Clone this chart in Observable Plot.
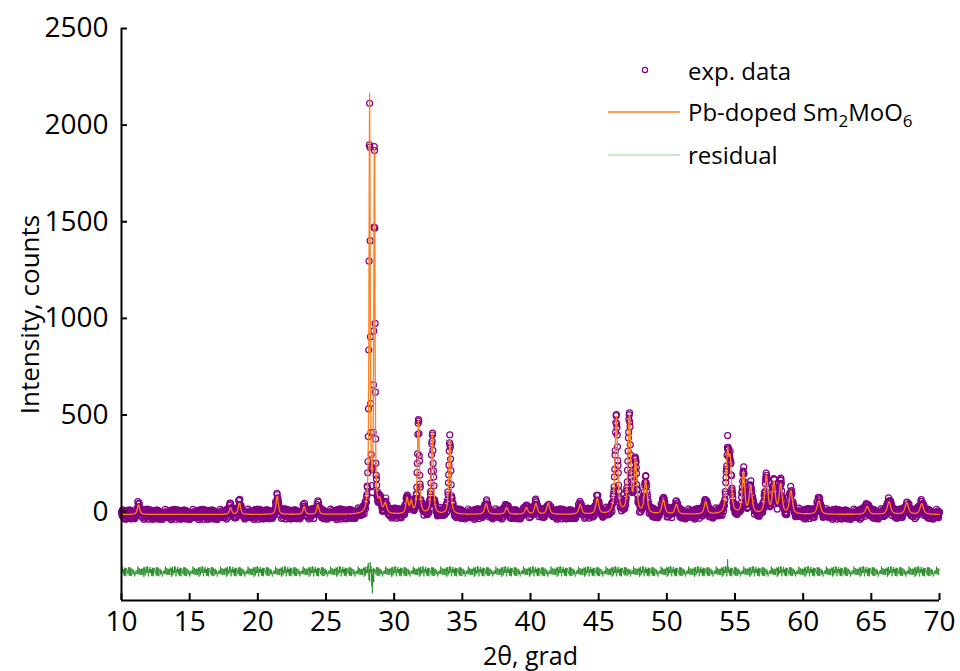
<!DOCTYPE html>
<html>
<head>
<meta charset="utf-8">
<script src="https://cdn.jsdelivr.net/npm/d3@7"></script>
<script src="https://cdn.jsdelivr.net/npm/@observablehq/plot@0.6"></script>
<style>
  html, body { margin: 0; padding: 0; background: #fff; }
  #wrap { position: relative; width: 960px; height: 671px; }
  #legend { position: absolute; left: 0; top: 0; pointer-events: none; }
</style>
</head>
<body>
<div id="wrap">
  <div id="chart"></div>
  <svg id="legend" width="960" height="671" font-family="Open Sans" font-size="24">
    <circle cx="645" cy="70" r="2.6" fill="none" stroke="#800080" stroke-width="1.2"></circle>
    <text x="688" y="80" fill="#000">exp. data</text>
    <line x1="608" x2="680" y1="112" y2="112" stroke="#ff7f1e" stroke-width="1.3"></line>
    <text x="688" y="121" fill="#000">Pb-doped Sm<tspan font-size="17" dy="6">2</tspan><tspan dy="-6">MoO</tspan><tspan font-size="17" dy="6">6</tspan></text>
    <line x1="608" x2="680" y1="155" y2="155" stroke="#9ccf9c" stroke-width="1.2"></line>
    <text x="688" y="164" fill="#000">residual</text>
  </svg>
</div>
<script>
// ---- data ----
// peak positions (2θ, deg)
const peakPos = [11.25, 18.0, 18.65, 21.42, 23.4, 24.4, 28.2, 28.55, 28.95, 29.35,
  30.95, 31.25, 31.78, 32.8, 34.08, 36.75, 38.25, 39.7, 40.4, 41.3,
  43.65, 44.9, 46.3, 47.25, 47.7, 48.45, 49.75, 50.7, 52.85, 54.45,
  54.65, 55.62, 56.15, 57.3, 57.85, 58.35, 59.1, 61.15, 64.7, 66.3,
  67.6, 68.7];
// peak heights above background (counts)
const peakHeight = [50, 35, 60, 95, 40, 50, 2150, 1920, 60, 50,
  80, 60, 480, 415, 385, 55, 35, 35, 55, 55,
  50, 80, 500, 505, 270, 170, 75, 50, 65, 290,
  250, 215, 140, 195, 160, 150, 120, 70, 40, 65,
  60, 55];
// peak widths (FWHM, deg)
const peakWidth = [0.2, 0.2, 0.2, 0.2, 0.2, 0.2, 0.1, 0.1, 0.25, 0.25,
  0.2, 0.2, 0.17, 0.17, 0.17, 0.25, 0.25, 0.25, 0.25, 0.25,
  0.25, 0.25, 0.22, 0.22, 0.22, 0.24, 0.25, 0.25, 0.25, 0.22,
  0.22, 0.22, 0.25, 0.25, 0.25, 0.25, 0.25, 0.3, 0.3, 0.3,
  0.3, 0.3];
const background = -15;
const residualOffset = -310;
// scatter of the measured points around the fit (counts), read as a band
const jitter = [12,-8,5,-20,18,-3,-14,9,22,-11,4,-25,7,15,-6,-17,26,-2,10,-13,3,19,-22,8,-9,14,-4,-18,24,1,-12,6,17,-26,11,-5,20,-15,2,13,-21,9,-7,16,-10,25,-1,-19,5,12,-24,18,-8,3,-16,21,-3,-11,7,27,-14,0,15,-20,10,-6,23,-12,4,-27,13,8,-17,19,-2,-9,16,-23,6,11,-5,22,-13,1,-18,14,9,-25,17,-7,3,20,-15,12,-4,-21,7,24,-10,2,-16];
// larger misfits
const misfitPos = [28.1, 28.16, 28.2, 28.24, 28.3, 28.36, 28.4, 28.44, 28.5, 28.56, 46.3, 47.0, 47.3, 54.46, 68.0];
const misfitVal = [25, -40, -60, 30, 35, -55, -90, -70, -30, -20, 15, 20, 15, 55, 15];
const xTicks = [10, 15, 20, 25, 30, 35, 40, 45, 50, 55, 60, 65, 70];
const yTicks = [0, 500, 1000, 1500, 2000, 2500];
const step = 0.02;

// ---- build table ----
const eta = 0.7;
function profile(x) {
  let s = background;
  for (let k = 0; k < peakPos.length; k++) {
    const u = (x - peakPos[k]) / peakWidth[k];
    const L = 1 / (1 + 4 * u * u);
    const G = Math.exp(-4 * Math.LN2 * u * u);
    s += peakHeight[k] * (eta * L + (1 - eta) * G);
  }
  return s;
}
const n = Math.round((70 - 10) / step);
const misfit = new Array(n + 1).fill(0);
misfitPos.forEach((p, k) => { misfit[Math.round((p - 10) / step)] += misfitVal[k]; });
const rows = [];
for (let i = 0; i <= n; i++) {
  const x = 10 + i * step;
  const calc = profile(x);
  const res = jitter[(i * 7) % jitter.length] + misfit[i];
  rows.push({x, calc, obs: calc + res, resid: residualOffset + res});
}

const frameW = 960 - 121 - 21;
const frameH = 671 - 28 - 71;

const chart = Plot.plot({
  width: 960,
  height: 671,
  marginLeft: 121,
  marginRight: 21,
  marginTop: 28,
  marginBottom: 71,
  x: {domain: [10, 70]},
  y: {domain: [-460, 2500]},
  style: {fontFamily: "Open Sans", fontSize: "28px", color: "#000", background: "#fff"},
  marks: [
    Plot.dot(rows, {x: "x", y: "obs", r: 3, stroke: "#800080", strokeWidth: 1.2, fill: "none"}),
    Plot.line(rows, {x: "x", y: "calc", stroke: "#ff7f1e", strokeWidth: 1.3}),
    Plot.line(rows, {x: "x", y: "resid", stroke: "#1f8a1f", strokeWidth: 0.8}),
    Plot.ruleX([10], {stroke: "#000", strokeWidth: 2}),
    Plot.ruleY([-460], {stroke: "#000", strokeWidth: 2}),
    Plot.tickX(xTicks, {x: d => d, insetTop: frameH - 7, stroke: "#000", strokeWidth: 2}),
    Plot.tickY(yTicks, {y: d => d, insetRight: frameW - 6, stroke: "#000", strokeWidth: 2}),
    Plot.axisX({ticks: xTicks, tickSize: 0, tickPadding: 11, fontSize: 28, tickFormat: d => String(d),
      label: null}),
    Plot.axisY({ticks: yTicks, tickSize: 0, tickPadding: 13, fontSize: 28, tickFormat: d => String(d),
      label: null}),
    Plot.text(["2θ, grad"], {frameAnchor: "bottom", textAnchor: "middle", dy: 56, fontSize: 25, lineAnchor: "middle"}),
    Plot.text(["Intensity, counts"], {frameAnchor: "left", textAnchor: "middle", dx: -91, rotate: -90, fontSize: 26, lineAnchor: "middle"})
  ]
});
document.getElementById("chart").appendChild(chart);
</script>
</body>
</html>
